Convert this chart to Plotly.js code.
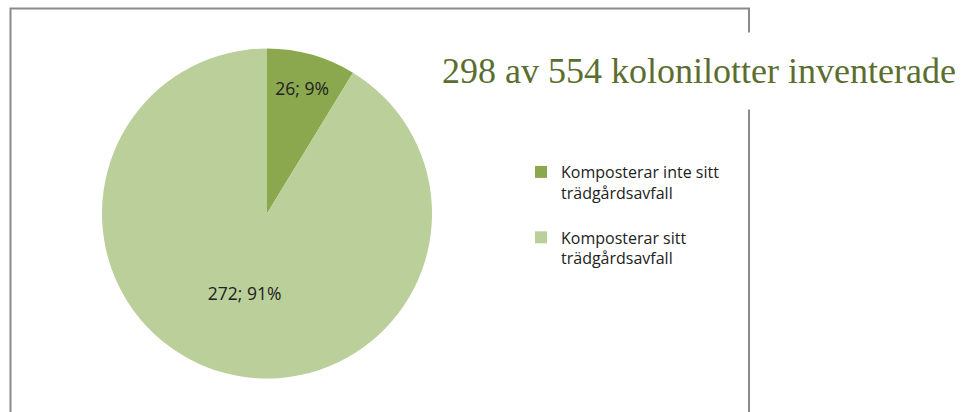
<!DOCTYPE html>
<html>
<head>
<meta charset="utf-8">
<script src="https://cdn.plot.ly/plotly-3.0.1.min.js"></script>
<style>
  html, body { margin: 0; padding: 0; background: #ffffff; }
  #chart { width: 970px; height: 412px; }
</style>
</head>
<body>
<div id="chart"></div>
<script>
const categories = ["Komposterar inte sitt<br>trädgårdsavfall", "Komposterar sitt<br>trädgårdsavfall"];
const counts = [26, 272];
const sliceColors = ["#8ba84f", "#bbcf9a"];
const titleText = "298 av 554 kolonilotter inventerade";

const W = 970, H = 412;
const cx = 267, cy = 213.5, r = 165;

// legend labels: add a blank spacer line under each entry for item spacing
const legendLabels = categories.map(c => c + "<br> ");

const trace = {
  type: "pie",
  labels: legendLabels,
  values: counts,
  sort: false,
  direction: "clockwise",
  rotation: 0,
  marker: { colors: sliceColors, line: { width: 0 } },
  texttemplate: "%{value}; %{percent:.0%}",
  textposition: "inside",
  insidetextorientation: "horizontal",
  textfont: { family: "'Open Sans', sans-serif", size: 17.5, color: "#222222" },
  hoverinfo: "none",
  domain: {
    x: [(cx - r) / W, (cx + r) / W],
    y: [(H - cy - r) / H, (H - cy + r) / H]
  }
};

const layout = {
  width: W,
  height: H,
  margin: { l: 0, r: 0, t: 0, b: 0 },
  paper_bgcolor: "#ffffff",
  showlegend: true,
  legend: {
    x: 521 / W,
    y: (H - 155) / H,
    xanchor: "left",
    yanchor: "top",
    valign: "top",
    font: { family: "'Open Sans', sans-serif", size: 16, color: "#222222" },
    bgcolor: "rgba(0,0,0,0)",
    itemclick: false
  },
  shapes: [{
    type: "rect",
    xref: "paper", yref: "paper",
    x0: 10.5 / W, x1: 749 / W,
    y0: -0.2, y1: (H - 8.5) / H,
    line: { color: "#8a8a8a", width: 2 },
    fillcolor: "rgba(0,0,0,0)",
    layer: "below"
  }],
  annotations: [{
    text: titleText,
    xref: "paper", yref: "paper",
    x: 699 / W, y: (H - 71) / H,
    xanchor: "center", yanchor: "middle",
    showarrow: false,
    font: { family: "'Liberation Serif', 'DejaVu Serif', serif", size: 36, color: "#5b6e2f" },
    bgcolor: "#ffffff",
    borderpad: 18
  }]
};

Plotly.newPlot("chart", [trace], layout, { displayModeBar: false, staticPlot: true });
</script>
</body>
</html>
